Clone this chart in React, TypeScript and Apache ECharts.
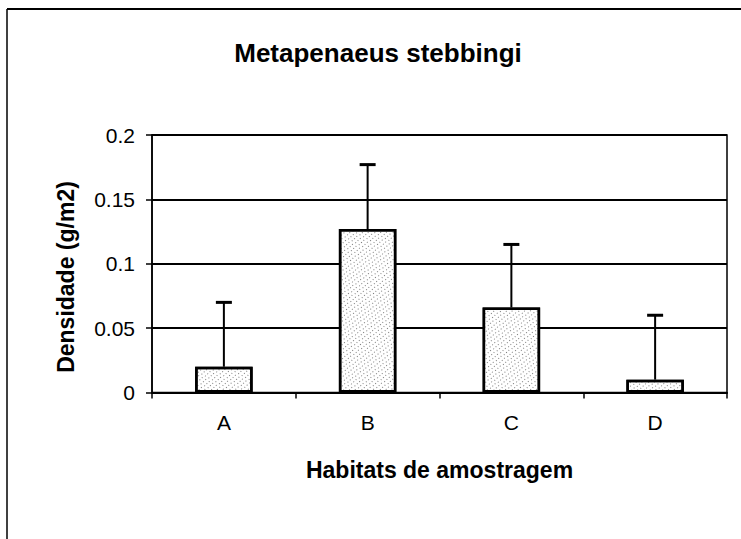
import React, { useEffect, useRef } from "react";
import * as echarts from "echarts";

const titleText = "Metapenaeus stebbingi";
const xAxisTitle = "Habitats de amostragem";
const yAxisTitle = "Densidade (g/m2)";
const categories = ["A", "B", "C", "D"];
const densities = [0.02, 0.127, 0.066, 0.01];
const errors = [0.05, 0.05, 0.049, 0.05];
const yTicks = [0, 0.05, 0.1, 0.15, 0.2];

const FONT = "'Liberation Sans', Arial, sans-serif";

export default function App() {
  const ref = useRef<HTMLDivElement>(null);
  useEffect(() => {
    if (!ref.current) return;
    const chart = echarts.init(ref.current, null, { renderer: "svg" });
    const errData = densities.map((v, i) => [i, v, v + errors[i]]);
    chart.setOption({
      animation: false,
      backgroundColor: "#ffffff",
      textStyle: { fontFamily: FONT },
      title: {
        text: titleText,
        left: 378,
        top: 40,
        padding: 0,
        textAlign: "center",
        textStyle: { fontFamily: FONT, fontSize: 26, fontWeight: "bold", color: "#000" },
      },
      grid: {
        left: 152,
        right: 14,
        top: 135,
        bottom: 146.5,
        show: true,
        borderColor: "#000",
        borderWidth: 1.5,
        backgroundColor: "#fff",
      },
      xAxis: {
        type: "category",
        data: categories,
        name: xAxisTitle,
        nameLocation: "middle",
        nameGap: 66,
        nameTextStyle: { fontFamily: FONT, fontSize: 23, fontWeight: "bold", color: "#000" },
        axisLine: { lineStyle: { color: "#000", width: 2 } },
        axisTick: { show: true, inside: false, length: 6, alignWithLabel: false, lineStyle: { color: "#000", width: 1.5 } },
        axisLabel: { margin: 19, fontFamily: FONT, fontSize: 21, color: "#000" },
        splitLine: { show: false },
      },
      yAxis: {
        type: "value",
        min: 0,
        max: 0.2,
        interval: 0.05,
        axisLine: { show: true, lineStyle: { color: "#000", width: 1.5 } },
        axisTick: { show: true, length: 6, lineStyle: { color: "#000", width: 1.5 } },
        axisLabel: {
          margin: 17,
          fontFamily: FONT,
          fontSize: 21,
          color: "#000",
          formatter: (v: number) => {
            const t = yTicks.find((x) => Math.abs(x - v) < 1e-9);
            return String(t !== undefined ? t : v);
          },
        },
        splitLine: { show: true, lineStyle: { color: "#000", width: 1.8 } },
      },
      graphic: [
        {
          type: "line",
          shape: { x1: 7, y1: 9, x2: 741, y2: 9 },
          style: { stroke: "#000", lineWidth: 2 },
          silent: true,
        },
        {
          type: "line",
          shape: { x1: 7, y1: 9, x2: 7, y2: 539 },
          style: { stroke: "#000", lineWidth: 1.5 },
          silent: true,
        },
        {
          type: "text",
          x: 66,
          y: 277,
          rotation: Math.PI / 2,
          style: {
            text: yAxisTitle,
            fontFamily: FONT,
            fontSize: 23,
            fontWeight: "bold",
            fill: "#000",
            align: "center",
            verticalAlign: "middle",
          },
        },
      ],
      series: [
        {
          type: "bar",
          data: densities,
          barWidth: "40%",
          itemStyle: {
            color: "#ffffff",
            borderColor: "#000",
            borderWidth: 2.5,
            decal: {
              symbol: "rect",
              symbolSize: 1,
              color: "rgba(40,40,40,0.6)",
              dashArrayX: [[1, 3], [0, 2, 1, 1], [0, 1, 1, 2]],
              dashArrayY: [1, 2],
              rotation: 0.5,
            },
          },
          z: 2,
        },
        {
          type: "custom",
          data: errData,
          z: 3,
          renderItem: (params: any, api: any) => {
            const x = api.value(0);
            const lo = api.coord([x, api.value(1)]);
            const hi = api.coord([x, api.value(2)]);
            const cap = 8;
            return {
              type: "group",
              children: [
                {
                  type: "line",
                  shape: { x1: lo[0], y1: lo[1], x2: hi[0], y2: hi[1] },
                  style: { stroke: "#000", lineWidth: 2 },
                },
                {
                  type: "line",
                  shape: { x1: hi[0] - cap, y1: hi[1], x2: hi[0] + cap, y2: hi[1] },
                  style: { stroke: "#000", lineWidth: 3 },
                },
              ],
            };
          },
        },
      ],
    });
    return () => chart.dispose();
  }, []);
  return (
    <div
      ref={ref}
      style={{ position: "fixed", left: 0, top: 0, width: 741, height: 539, background: "#fff" }}
    />
  );
}
